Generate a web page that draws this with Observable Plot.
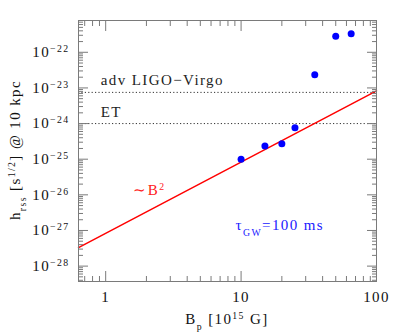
<!DOCTYPE html>
<html><head><meta charset="utf-8">
<script src="https://cdn.jsdelivr.net/npm/d3@7"></script>
<script src="https://cdn.jsdelivr.net/npm/@observablehq/plot@0.6"></script>
<style>
body{margin:0;background:#fff;}
#chart svg text{letter-spacing:1.4px;}
</style>
</head><body><div id="chart"></div>
<script>
// ---- data ----
const fieldB = [10, 15, 20, 25, 35, 50, 65];               // B_p [10^15 G]
const hrss   = [1.0e-25, 2.33e-25, 2.7e-25, 7.6e-25, 2.33e-23, 2.8e-22, 3.3e-22];
const fitB   = [0.63, 100];                                 // ~B^2 scaling line
const fitH   = [3.3e-28, 8.3e-24];
const detectorNames = ["adv LIGO−Virgo", "ET"];
const detectorH     = [7.5e-24, 1.0e-24];
const detectorLabelX = [0.92, 0.92];
const detectorLabelY = [1.17e-23, 1.48e-24];
const xTicks = [1, 10, 100];
const xTickLabels = ["1", "10", "100"];
const yTicks = [1e-28, 1e-27, 1e-26, 1e-25, 1e-24, 1e-23, 1e-22];
const yTickLabels = ["10^{−28}", "10^{−27}", "10^{−26}", "10^{−25}", "10^{−24}", "10^{−23}", "10^{−22}"];
const scalingText = ["∼B^{2}"];
const scalingPos = [[1.60, 9.8e-27]];
const tauText = ["τ_{GW}=100 ms"];
const tauPos = [[9.1, 1.02e-27]];
const xDomain = [0.63, 100];
const yDomain = [3.7e-29, 7.8e-22];

// minor (unlabelled) log ticks 2..9 in each decade
function minors(lo, hi) {
  const out = [];
  for (let e = Math.floor(Math.log10(lo)); e <= Math.ceil(Math.log10(hi)); e++)
    for (let k = 2; k <= 9; k++) { const v = k * Math.pow(10, e); if (v >= lo && v <= hi) out.push(v); }
  return out;
}
const xMinor = minors(xDomain[0], xDomain[1]);
const yMinor = minors(yDomain[0], yDomain[1]);

const pts = fieldB.map((b, i) => ({b, h: hrss[i]}));
const fit = fitB.map((b, i) => ({b, h: fitH[i]}));
const det = detectorNames.map((n, i) => ({n, x: detectorLabelX[i], y: detectorLabelY[i]}));

const tickColor = "#7a7a7a";
const major = 10, minor = 5;
const tk = (axis, anchor, data, size) => {
  const o = {anchor, tickSize: size, fill: "none", stroke: tickColor, label: null};
  o["inset" + anchor[0].toUpperCase() + anchor.slice(1)] = size;
  return axis(data, o);
};
const lookup = (ticks, labels) => d => {
  const i = ticks.findIndex(t => Math.abs(Math.log10(t) - Math.log10(d)) < 1e-6);
  return i < 0 ? "" : labels[i];
};

const plot = Plot.plot({
  width: 397, height: 336,
  marginLeft: 78, marginRight: 21, marginTop: 20, marginBottom: 55,
  style: {fontFamily: "'Liberation Serif', serif", fontSize: "15px", background: "#fff", color: "#111"},
  x: {type: "log", domain: xDomain, label: null},
  y: {type: "log", domain: yDomain, label: null},
  marks: [
    Plot.ruleY(detectorH, {stroke: "#333", strokeDasharray: "1.2,2.2", strokeWidth: 1}),
    Plot.line(fit, {x: "b", y: "h", stroke: "#ff0000", strokeWidth: 1.5}),
    Plot.dot(pts, {x: "b", y: "h", r: 3.5, fill: "#0000ff", stroke: "none"}),
    Plot.text(det, {x: "x", y: "y", text: "n", textAnchor: "start", lineAnchor: "bottom", fill: "#222"}),
    Plot.text(scalingText, {x: () => scalingPos[0][0], y: () => scalingPos[0][1], text: d => d, textAnchor: "start", lineAnchor: "bottom", fill: "#ff2020"}),
    Plot.text(tauText, {x: () => tauPos[0][0], y: () => tauPos[0][1], text: d => d, textAnchor: "start", lineAnchor: "bottom", fill: "#2020ff"}),
    tk(Plot.axisX, "bottom", xTicks, major),
    tk(Plot.axisX, "top", xTicks, major),
    tk(Plot.axisX, "bottom", xMinor, minor),
    tk(Plot.axisX, "top", xMinor, minor),
    tk(Plot.axisY, "left", yTicks, major),
    tk(Plot.axisY, "right", yTicks, major),
    tk(Plot.axisY, "left", yMinor, minor),
    tk(Plot.axisY, "right", yMinor, minor),
    Plot.axisX(xTicks, {anchor: "bottom", tickSize: 0, tickPadding: 10, label: null, fill: "#111", tickFormat: lookup(xTicks, xTickLabels)}),
    Plot.axisY(yTicks, {anchor: "left", tickSize: 0, tickPadding: 9, label: null, fill: "#111", tickFormat: lookup(yTicks, yTickLabels)}),
    Plot.frame({stroke: tickColor})
  ]
});
document.getElementById("chart").appendChild(plot);

const svg = d3.select(plot);
// axis titles
svg.append("text").attr("transform", "translate(227,324)").attr("text-anchor", "middle")
  .attr("fill", "#111").text("B_{p} [10^{15} G]");
svg.append("text").attr("transform", "translate(20,150) rotate(-90)").attr("text-anchor", "middle")
  .attr("fill", "#111").text("h_{rss} [s^{1/2}] @ 10 kpc");

// turn ^{..} and _{..} into real super/subscript tspans
svg.selectAll("text").each(function () {
  const s = this.textContent;
  if (!/[\^_]\{/.test(s)) return;
  const el = d3.select(this);
  el.text(null);
  const re = /([\^_])\{([^}]*)\}/g;
  let last = 0, m;
  const add = (t, kind) => {
    const ts = el.append("tspan").text(t);
    if (kind === "^") ts.attr("baseline-shift", "super").attr("font-size", "65%");
    if (kind === "_") ts.attr("baseline-shift", "sub").attr("font-size", "65%");
  };
  while ((m = re.exec(s))) {
    if (m.index > last) add(s.slice(last, m.index));
    add(m[2], m[1]);
    last = re.lastIndex;
  }
  if (last < s.length) add(s.slice(last));
});
</script>
</body></html>
